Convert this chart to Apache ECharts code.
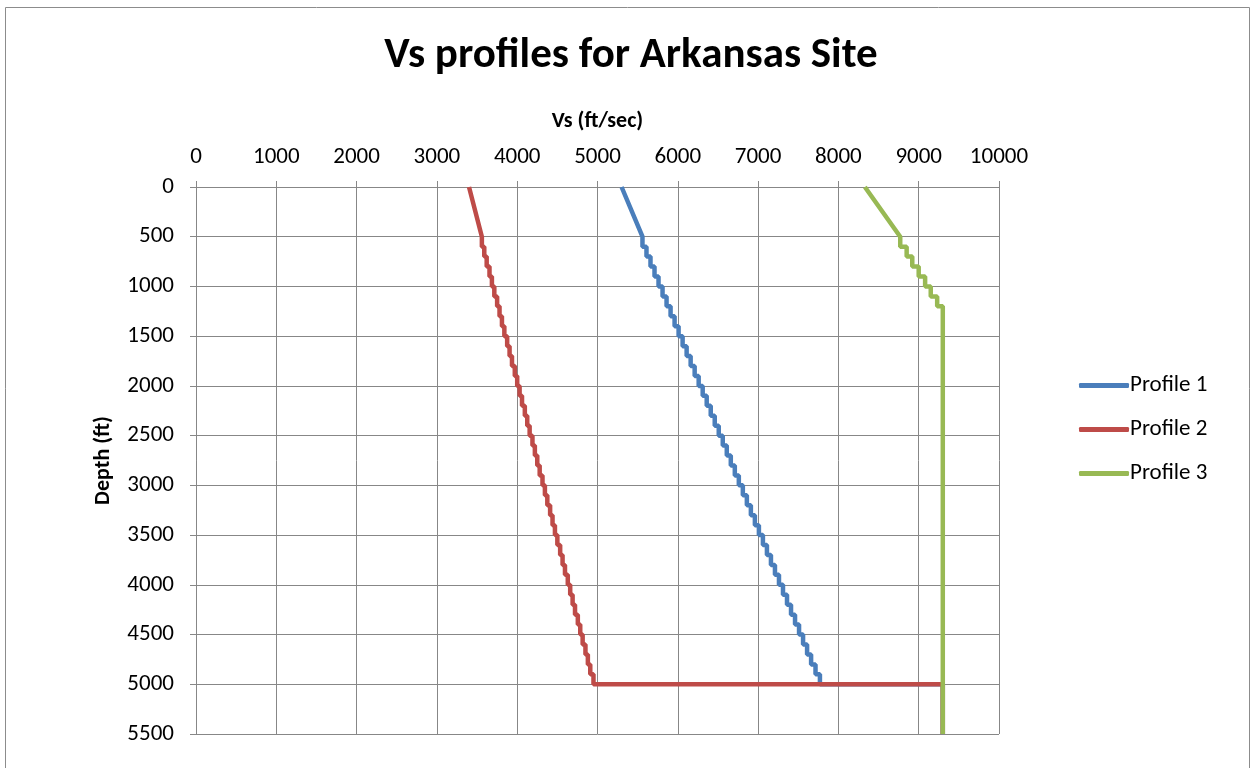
<!doctype html>
<html>
<head>
<meta charset="UTF-8">
<title>Vs profiles for Arkansas Site</title>
<script src="https://cdn.jsdelivr.net/npm/echarts@6/dist/echarts.min.js"></script>
<style>
  html, body { margin: 0; padding: 0; background: #fff; }
  #main { width: 1253px; height: 768px; }
</style>
</head>
<body>
<div id="main"></div>
<script>
// depth ticks and velocity ticks
var depthTicks = [0, 500, 1000, 1500, 2000, 2500, 3000, 3500, 4000, 4500, 5000, 5500];
var vsTicks = [0, 1000, 2000, 3000, 4000, 5000, 6000, 7000, 8000, 9000, 10000];

// layer boundaries (ft) below the smooth top 500 ft
var layerDepths = [500, 600, 700, 800, 900, 1000, 1100, 1200, 1300, 1400,
  1500, 1600, 1700, 1800, 1900, 2000, 2100, 2200, 2300, 2400,
  2500, 2600, 2700, 2800, 2900, 3000, 3100, 3200, 3300, 3400,
  3500, 3600, 3700, 3800, 3900, 4000, 4100, 4200, 4300, 4400,
  4500, 4600, 4700, 4800, 4900, 5000];
var bottomDepth = 5500;

// Profile 1
var p1Top = [5300, 5560];          // Vs at 0 ft and 500 ft
var p1Layers = [5560, 5610, 5660, 5710, 5760, 5810, 5860, 5910, 5960, 6010,
  6060, 6110, 6160, 6210, 6260, 6310, 6360, 6410, 6460, 6510,
  6560, 6610, 6660, 6710, 6760, 6810, 6860, 6910, 6960, 7010,
  7060, 7110, 7160, 7210, 7260, 7310, 7360, 7410, 7460, 7510,
  7560, 7610, 7660, 7715, 7770];
// Profile 2
var p2Top = [3400, 3560];
var p2Layers = [3560, 3590, 3620, 3655, 3685, 3715, 3750, 3780, 3810, 3840,
  3875, 3905, 3935, 3970, 4000, 4030, 4060, 4095, 4125, 4155,
  4190, 4220, 4250, 4280, 4315, 4345, 4375, 4410, 4440, 4470,
  4500, 4535, 4565, 4595, 4630, 4660, 4690, 4720, 4755, 4785,
  4815, 4850, 4880, 4910, 4950];
// Profile 3
var p3Top = [8330, 8770];
var p3Layers = [8770, 8850, 8920, 9000, 9080, 9150, 9230];
// half-space velocity shared by all profiles
var halfSpaceVs = 9300;

function buildProfile(top, layers) {
  var pts = [[top[0], 0], [top[1], layerDepths[0]]];
  for (var i = 0; i < layers.length; i++) {
    pts.push([layers[i], layerDepths[i]]);
    pts.push([layers[i], layerDepths[i + 1]]);
  }
  var last = layerDepths[layers.length];
  pts.push([halfSpaceVs, last]);
  pts.push([halfSpaceVs, bottomDepth]);
  return pts;
}

var font = 'Carlito, Lato, "Open Sans", sans-serif';
var gridColor = '#878787';

var myChart = echarts.init(document.getElementById('main'));

var option = {
  animation: false,
  backgroundColor: '#fff',
  textStyle: { fontFamily: font },
  title: {
    text: 'Vs profiles for Arkansas Site',
    left: 626,
    top: 30,
    textAlign: 'center',
    textStyle: { fontFamily: font, fontSize: 43, fontWeight: 'bold', color: '#000' }
  },
  graphic: [{
    type: 'rect',
    shape: { x: 5.5, y: 7.5, width: 1244, height: 800 },
    style: { fill: 'none', stroke: '#8c8c8c', lineWidth: 1 },
    silent: true
  }],
  legend: {
    orient: 'vertical',
    left: 1074,
    top: 369,
    itemWidth: 50,
    itemHeight: 5,
    itemGap: 21,
    icon: 'roundRect',
    textStyle: { fontFamily: font, fontSize: 23, color: '#000', padding: [0, 0, 0, -4] },
    data: ['Profile 1', 'Profile 2', 'Profile 3']
  },
  grid: { left: 196, top: 187, width: 803, height: 547 },
  xAxis: {
    type: 'value',
    position: 'top',
    min: vsTicks[0],
    max: vsTicks[vsTicks.length - 1],
    interval: 1000,
    name: 'Vs (ft/sec)',
    nameLocation: 'middle',
    nameGap: 55,
    nameTextStyle: { fontFamily: font, fontSize: 22, fontWeight: 'bold', color: '#000' },
    axisLine: { show: true, lineStyle: { color: gridColor, width: 1 } },
    axisTick: { show: true, length: 6, lineStyle: { color: gridColor } },
    axisLabel: { fontFamily: font, fontSize: 23, color: '#000', margin: 18,
      formatter: function (v) { return String(v); } },
    splitLine: { show: true, lineStyle: { color: gridColor, width: 1 } }
  },
  yAxis: {
    type: 'value',
    inverse: true,
    min: depthTicks[0],
    max: depthTicks[depthTicks.length - 1],
    interval: 500,
    name: 'Depth (ft)',
    nameLocation: 'middle',
    nameGap: 82,
    nameRotate: 90,
    nameTextStyle: { fontFamily: font, fontSize: 22, fontWeight: 'bold', color: '#000' },
    axisLine: { show: true, lineStyle: { color: gridColor, width: 1 } },
    axisTick: { show: true, length: 6, lineStyle: { color: gridColor } },
    axisLabel: { fontFamily: font, fontSize: 23, color: '#000', margin: 22,
      formatter: function (v) { return String(v); } },
    splitLine: { show: true, lineStyle: { color: gridColor, width: 1 } }
  },
  series: [{
    name: 'Profile 1',
    type: 'line',
    showSymbol: false,
    symbol: 'none',
    color: '#4A7EBB',
    lineStyle: { width: 4.5 },
    data: buildProfile(p1Top, p1Layers)
  }, {
    name: 'Profile 2',
    type: 'line',
    showSymbol: false,
    symbol: 'none',
    color: '#BE4B48',
    lineStyle: { width: 4.5 },
    data: buildProfile(p2Top, p2Layers)
  }, {
    name: 'Profile 3',
    type: 'line',
    showSymbol: false,
    symbol: 'none',
    color: '#98B954',
    lineStyle: { width: 4.5 },
    data: buildProfile(p3Top, p3Layers)
  }]
};

myChart.setOption(option);
</script>
</body>
</html>
